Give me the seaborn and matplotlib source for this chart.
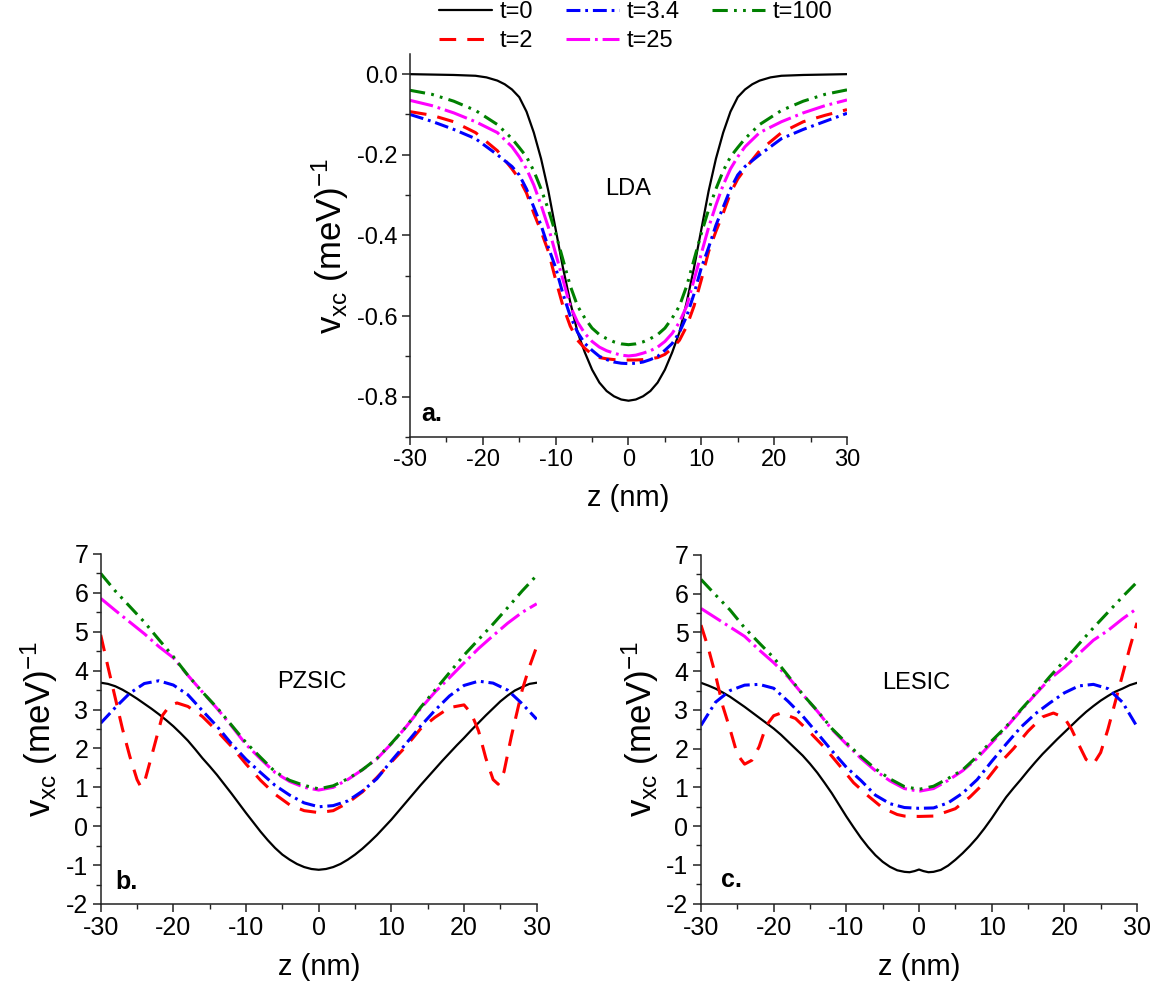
import numpy as np
import pandas as pd
import matplotlib
matplotlib.use("Agg")
import matplotlib.pyplot as plt
import seaborn as sns
from matplotlib.ticker import MultipleLocator, FormatStrFormatter

# ---------------- data ----------------
labels = ["t=0", "t=2", "t=3.4", "t=25", "t=100"]
colors = ["black", "#ff0000", "#0000ff", "#ff00ff", "#008000"]

# Panel a (LDA)
za = [-30, -27, -24, -21, -18, -16, -15, -14, -13, -12, -11, -10, -9, -8, -7, -6, -5, -4, -3, -2, -1, 0,
      1, 2, 3, 4, 5, 6, 7, 8, 9, 10, 11, 12, 13, 14, 15, 16, 18, 21, 24, 27, 30]
za0 = [-30, -27, -24, -21, -19.5, -18, -17, -16, -15, -14, -13, -12, -11, -10, -9, -8, -7, -6, -5, -4, -3, -2,
       -1, 0, 1, 2, 3, 4, 5, 6, 7, 8, 9, 10, 11, 12, 13, 14, 15, 16, 17, 18, 19.5, 21, 24, 27, 30]
lda_t0 = [0.0, -0.001, -0.002, -0.004, -0.008, -0.016, -0.025, -0.038, -0.057, -0.093, -0.145, -0.21, -0.29,
          -0.385, -0.48, -0.565, -0.64, -0.69, -0.733, -0.765, -0.786, -0.799, -0.807, -0.81,
          -0.807, -0.799, -0.786, -0.765, -0.733, -0.69, -0.64, -0.565, -0.48, -0.385, -0.29, -0.21, -0.145,
          -0.093, -0.057, -0.038, -0.025, -0.016, -0.008, -0.004, -0.002, -0.001, 0.0]
lda_t2 = [-0.093, -0.102, -0.118, -0.145, -0.19, -0.235, -0.26, -0.295, -0.345, -0.39, -0.44, -0.51, -0.575,
          -0.625, -0.66, -0.68, -0.695, -0.703, -0.706, -0.708, -0.709, -0.709,
          -0.709, -0.708, -0.706, -0.703, -0.695, -0.68, -0.66, -0.625, -0.575, -0.51, -0.44, -0.39, -0.345,
          -0.295, -0.26, -0.235, -0.19, -0.145, -0.118, -0.102, -0.088]
lda_t34 = [-0.100, -0.117, -0.137, -0.16, -0.2, -0.229, -0.25, -0.285, -0.33, -0.375, -0.43, -0.48, -0.545,
           -0.6, -0.64, -0.668, -0.685, -0.7, -0.708, -0.714, -0.717, -0.718,
           -0.717, -0.714, -0.708, -0.7, -0.685, -0.668, -0.64, -0.6, -0.545, -0.48, -0.43, -0.375, -0.33,
           -0.285, -0.25, -0.229, -0.2, -0.16, -0.137, -0.117, -0.097]
lda_t25 = [-0.065, -0.078, -0.096, -0.118, -0.145, -0.18, -0.205, -0.235, -0.275, -0.325, -0.38, -0.445, -0.51,
           -0.575, -0.615, -0.643, -0.663, -0.677, -0.686, -0.692, -0.697, -0.699,
           -0.697, -0.692, -0.686, -0.677, -0.663, -0.643, -0.615, -0.575, -0.51, -0.445, -0.38, -0.325, -0.275,
           -0.235, -0.205, -0.18, -0.145, -0.118, -0.096, -0.078, -0.064]
lda_t100 = [-0.040, -0.050, -0.067, -0.09, -0.125, -0.16, -0.182, -0.205, -0.24, -0.285, -0.336, -0.395, -0.46,
            -0.525, -0.575, -0.605, -0.63, -0.646, -0.656, -0.664, -0.669, -0.671,
            -0.669, -0.664, -0.656, -0.646, -0.63, -0.605, -0.575, -0.525, -0.46, -0.395, -0.336, -0.285, -0.24,
            -0.205, -0.182, -0.16, -0.125, -0.09, -0.067, -0.05, -0.039]

# Panels b (PZSIC) and c (LESIC): common grid
zg = [-30, -28, -26, -24, -22, -20, -18, -16, -14, -12, -10, -8, -6, -4, -2, 0,
      2, 4, 6, 8, 10, 12, 14, 16, 18, 20, 22, 24, 26, 28, 30]
z1 = [-30, -29, -28, -27, -26, -25, -24, -23, -22, -21, -20, -19, -18, -17, -16, -15, -14, -13, -12, -11,
      -10, -9, -8, -7, -6, -5, -4, -3, -2, -1, 0, 1, 2, 3, 4, 5, 6, 7, 8, 9, 10, 11, 12, 13, 14, 15, 16,
      17, 18, 19, 20, 21, 22, 23, 24, 25, 26, 27, 28, 29, 30]

pz_t0 = [3.69, 3.66, 3.6, 3.51, 3.4, 3.28, 3.15, 3.02, 2.88, 2.73, 2.57, 2.39, 2.2, 1.98, 1.75, 1.54, 1.32,
         1.08, 0.84, 0.59, 0.34, 0.1, -0.14, -0.36, -0.56, -0.73, -0.86, -0.97, -1.05, -1.1, -1.12,
         -1.1, -1.05, -0.97, -0.86, -0.73, -0.58, -0.41, -0.23, -0.03, 0.17, 0.39, 0.61, 0.83, 1.05, 1.26,
         1.47, 1.68, 1.88, 2.08, 2.27, 2.47, 2.66, 2.85, 3.03, 3.21, 3.36, 3.49, 3.58, 3.66, 3.69]
pz_t34 = [2.65, 3.05, 3.42, 3.67, 3.74, 3.63, 3.38, 2.97, 2.57, 2.12, 1.72, 1.38, 1.05, 0.8, 0.6, 0.5,
          0.53, 0.65, 0.9, 1.22, 1.68, 2.12, 2.57, 2.98, 3.35, 3.62, 3.73, 3.68, 3.5, 3.15, 2.75]
pz_t25 = [5.86, 5.55, 5.25, 4.95, 4.62, 4.33, 3.88, 3.45, 3.03, 2.58, 2.1, 1.73, 1.38, 1.15, 1.0, 0.93,
          1.0, 1.2, 1.45, 1.73, 2.12, 2.55, 3.02, 3.45, 3.82, 4.2, 4.57, 4.9, 5.22, 5.5, 5.72]
pz_t100 = [6.5, 6.05, 5.65, 5.25, 4.8, 4.36, 3.88, 3.45, 3.05, 2.6, 2.15, 1.77, 1.4, 1.18, 1.05, 0.96,
           1.04, 1.22, 1.45, 1.74, 2.13, 2.55, 3.05, 3.5, 3.95, 4.4, 4.8, 5.2, 5.62, 6.05, 6.45]
pz_z2 = [-30, -29, -28, -27, -26, -25, -24.5, -24, -23, -22, -21.5, -20.5, -19.5, -18, -16, -14, -12, -10,
         -8, -6, -4, -2, 0, 2, 4, 6, 8, 10, 12, 14, 16, 18, 20, 21, 22, 23, 24, 24.7, 25.5, 26.5, 28, 29, 30]
pz_t2 = [4.92, 4.1, 3.3, 2.5, 1.8, 1.2, 1.02, 1.12, 1.8, 2.5, 2.85, 3.1, 3.17, 3.08, 2.82, 2.45, 2.05, 1.6,
         1.18, 0.82, 0.55, 0.4, 0.35, 0.4, 0.6, 0.88, 1.25, 1.65, 2.05, 2.5, 2.8, 3.05, 3.12, 2.9, 2.45, 1.75,
         1.2, 1.08, 1.4, 2.3, 3.5, 4.1, 4.62]

le_z0 = [-30, -29, -28, -27, -26, -25, -24, -23, -22, -21, -20, -19, -18, -17, -16, -15, -14, -13, -12, -11,
         -10, -9, -8, -7, -6, -5, -4, -3, -2, -1.3, -0.6, 0, 0.6, 1.3, 2, 3, 4, 5, 6, 7, 8, 9, 10, 11, 12,
         13, 14, 15, 16, 17, 18, 19, 20, 21, 22, 23, 24, 25, 26, 27, 28, 29, 30]
le_t0 = [3.70, 3.63, 3.55, 3.45, 3.34, 3.21, 3.08, 2.94, 2.8, 2.66, 2.52, 2.36, 2.18, 2.0, 1.82, 1.61, 1.38,
         1.12, 0.85, 0.55, 0.25, -0.03, -0.3, -0.54, -0.75, -0.92, -1.05, -1.14, -1.18, -1.19, -1.16, -1.12,
         -1.16, -1.19, -1.18, -1.13, -1.02, -0.87, -0.7, -0.51, -0.3, -0.06, 0.2, 0.48, 0.75, 0.98, 1.2,
         1.43, 1.65, 1.86, 2.05, 2.24, 2.42, 2.6, 2.78, 2.95, 3.1, 3.24, 3.36, 3.47, 3.55, 3.64, 3.70]
le_t34 = [2.6, 3.2, 3.5, 3.64, 3.66, 3.56, 3.22, 2.84, 2.4, 1.95, 1.52, 1.18, 0.8, 0.58, 0.48, 0.46,
          0.47, 0.6, 0.85, 1.2, 1.67, 2.12, 2.55, 2.9, 3.18, 3.44, 3.62, 3.66, 3.55, 3.2, 2.57]
le_t25 = [5.62, 5.38, 5.14, 4.9, 4.55, 4.22, 3.85, 3.4, 2.97, 2.5, 2.12, 1.75, 1.43, 1.17, 0.97, 0.9,
          0.97, 1.18, 1.43, 1.75, 2.15, 2.55, 2.98, 3.4, 3.8, 4.1, 4.45, 4.8, 5.05, 5.35, 5.62]
le_t100 = [6.37, 5.97, 5.58, 5.12, 4.73, 4.35, 3.88, 3.4, 2.98, 2.52, 2.15, 1.8, 1.48, 1.22, 1.02, 0.95,
           1.03, 1.23, 1.45, 1.8, 2.2, 2.57, 3.0, 3.42, 3.86, 4.27, 4.7, 5.12, 5.52, 5.92, 6.3]
le_z2 = [-30, -29, -28, -27, -26, -25, -24, -23, -22, -21, -20, -19, -17, -15, -13, -11, -9, -7, -5, -3, -2,
         0, 2, 3, 5, 7, 9, 11, 13, 15, 17, 18.5, 20, 21, 22, 23, 24, 25, 26, 27, 28, 29, 30]
le_t2 = [5.19, 4.6, 3.9, 3.1, 2.5, 1.85, 1.6, 1.7, 2.05, 2.6, 2.85, 2.92, 2.78, 2.42, 2.03, 1.58, 1.12, 0.78,
         0.47, 0.3, 0.26, 0.25, 0.26, 0.32, 0.45, 0.75, 1.12, 1.6, 2.0, 2.45, 2.82, 2.92, 2.8, 2.5, 2.1, 1.72,
         1.6, 1.9, 2.5, 3.2, 3.9, 4.6, 5.25]


def long_df(series):
    frames = []
    for lab, z, v in series:
        frames.append(pd.DataFrame({"z": z, "v": v, "t": lab}))
    return pd.concat(frames, ignore_index=True)


df_a = long_df([("t=0", za0, lda_t0), ("t=2", za, lda_t2), ("t=3.4", za, lda_t34),
                ("t=25", za, lda_t25), ("t=100", za, lda_t100)])
df_b = long_df([("t=0", z1, pz_t0), ("t=2", pz_z2, pz_t2), ("t=3.4", zg, pz_t34),
                ("t=25", zg, pz_t25), ("t=100", zg, pz_t100)])
df_c = long_df([("t=0", le_z0, le_t0), ("t=2", le_z2, le_t2), ("t=3.4", zg, le_t34),
                ("t=25", zg, le_t25), ("t=100", zg, le_t100)])

# ---------------- style ----------------
sns.set_theme(style="ticks")
plt.rcParams["font.family"] = ["Liberation Sans", "DejaVu Sans"]
plt.rcParams["mathtext.default"] = "regular"
plt.rcParams["axes.unicode_minus"] = False
plt.rcParams["lines.scale_dashes"] = False
plt.rcParams["axes.edgecolor"] = "#222222"
plt.rcParams["axes.linewidth"] = 1.1
plt.rcParams["text.color"] = "black"
plt.rcParams["axes.labelcolor"] = "black"

palette = dict(zip(labels, colors))
dashes = {"t=0": "", "t=2": (12, 8), "t=3.4": (10, 3.5, 2, 3.5),
          "t=25": (17, 3.5, 2, 3.5), "t=100": (11, 4.5, 2, 4.5, 2, 4.5)}
sizes = {"t=0": 1.6, "t=2": 2.2, "t=3.4": 2.2, "t=25": 2.2, "t=100": 2.2}

fig = plt.figure(figsize=(11.58, 9.89), dpi=100)
ax_a = fig.add_axes([0.35406, 0.55814, 0.37737, 0.38726])
ax_b = fig.add_axes([0.08696, 0.08595, 0.37651, 0.35389])
ax_c = fig.add_axes([0.60535, 0.08635, 0.37651, 0.35248])

for ax, df in [(ax_a, df_a), (ax_b, df_b), (ax_c, df_c)]:
    sns.lineplot(data=df, x="z", y="v", hue="t", style="t", size="t",
                 hue_order=labels, style_order=labels, size_order=labels,
                 palette=palette, dashes=dashes, sizes=sizes,
                 estimator=None, errorbar=None, sort=True, legend=False, ax=ax)
    sns.despine(ax=ax)
    ax.set_xlim(-30, 30)
    ax.xaxis.set_major_locator(MultipleLocator(10))
    ax.xaxis.set_minor_locator(MultipleLocator(5))
    ax.tick_params(which="major", direction="out", length=6, width=1.1, colors="#222222",
                   labelcolor="black", pad=3)
    ax.tick_params(which="minor", direction="out", length=3.5, width=1.0, colors="#222222")
    ax.set_xlabel("z (nm)", fontsize=21, labelpad=9)
    ax.set_ylabel(r"v$_{xc}$ (meV)$^{-1}$", fontsize=25, labelpad=4)

ax_a.set_ylim(-0.9, 0.05)
ax_a.yaxis.set_major_locator(MultipleLocator(0.2))
ax_a.yaxis.set_minor_locator(MultipleLocator(0.1))
ax_a.yaxis.set_major_formatter(FormatStrFormatter("%.1f"))
ax_a.tick_params(which="major", labelsize=17)

for ax in (ax_b, ax_c):
    ax.set_ylim(-2, 7)
    ax.yaxis.set_major_locator(MultipleLocator(1))
    ax.yaxis.set_minor_locator(MultipleLocator(0.5))
    ax.tick_params(which="major", labelsize=18)

ax_a.text(0, -0.285, "LDA", fontsize=17, ha="center", va="center")
ax_b.text(-1.0, 3.72, "PZSIC", fontsize=17, ha="center", va="center")
ax_c.text(-0.35, 3.69, "LESIC", fontsize=17, ha="center", va="center")
ax_a.text(-28.4, -0.843, "a.", fontsize=18, fontweight="bold", ha="left", va="center")
ax_b.text(-28.0, -1.43, "b.", fontsize=18, fontweight="bold", ha="left", va="center")
ax_c.text(-27.2, -1.39, "c.", fontsize=18, fontweight="bold", ha="left", va="center")

handles = ax_a.get_lines()[:5]
fig.legend(handles, labels, ncol=3, loc="upper center", bbox_to_anchor=(0.549, 1.0),
           frameon=False, fontsize=17, handlelength=2.25, handletextpad=0.3,
           columnspacing=1.4, labelspacing=0.3, borderaxespad=0.0, borderpad=0.05)

fig.savefig("out.png", dpi=100, facecolor="white")
